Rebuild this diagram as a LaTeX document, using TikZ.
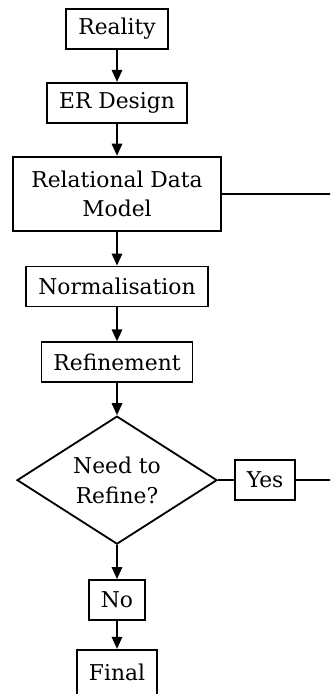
\documentclass[tikz,border=0pt]{standalone}
\usepackage{fontspec}
\setmainfont{DejaVu Serif}
\usetikzlibrary{positioning,shapes.geometric,arrows.meta}

\tikzset{
  stage/.style={draw, line width=1.3pt, minimum height=1.0cm, inner xsep=0.3cm,
    font=\fontsize{15.5}{21}\selectfont},
  query/.style={draw, diamond, aspect=1.56, line width=1.3pt, minimum width=5.0cm,
    minimum height=3.2cm, inner sep=0pt, align=center, font=\fontsize{15.5}{21}\selectfont},
  flow/.style={-{Triangle[length=3mm,width=2.6mm]}, line width=1.3pt},
  link/.style={line width=1.3pt}
}

\begin{document}
\begin{tikzpicture}
    \clip[use as bounding box] (0,0) rectangle (8.25,-17.35);

    % Draw the stages
    \node[stage] (reality) at (2.925,-0.725) {Reality};
    \node[stage, below=0.8cm of reality] (er) {ER Design};
    \node[stage, align=center, minimum width=5.2cm, minimum height=1.85cm,
      below=0.8cm of er] (rdm) {Relational Data\\Model};
    \node[stage, below=0.85cm of rdm] (norm) {Normalisation};
    \node[stage, below=0.85cm of norm] (refine) {Refinement};
    \node[query, below=0.8cm of refine] (need) {Need to\\Refine?};
    \node[stage, right=0.4cm of need] (yes) {Yes};
    \node[stage, below=0.85cm of need] (no) {No};
    \node[stage, minimum height=1.15cm, below=0.7cm of no] (final) {Final};

    % Draw the arrows
    \draw[flow] (reality) -- (er);
    \draw[flow] (er) -- (rdm);
    \draw[flow] (rdm) -- (norm);
    \draw[flow] (norm) -- (refine);
    \draw[flow] (refine) -- (need);
    \draw[flow] (need) -- (no);
    \draw[flow] (no) -- (final);

    % Draw the lines going off to the right
    \coordinate[right=3cm of rdm.east] (rdmend);
    \coordinate[right=1.5cm of yes.east] (yesend);
    \draw[link] (need.east) -- (yes.west);
    \draw[link] (rdm.east) -- (rdmend);
    \draw[link] (yes.east) -- (yesend);
\end{tikzpicture}
\end{document}
